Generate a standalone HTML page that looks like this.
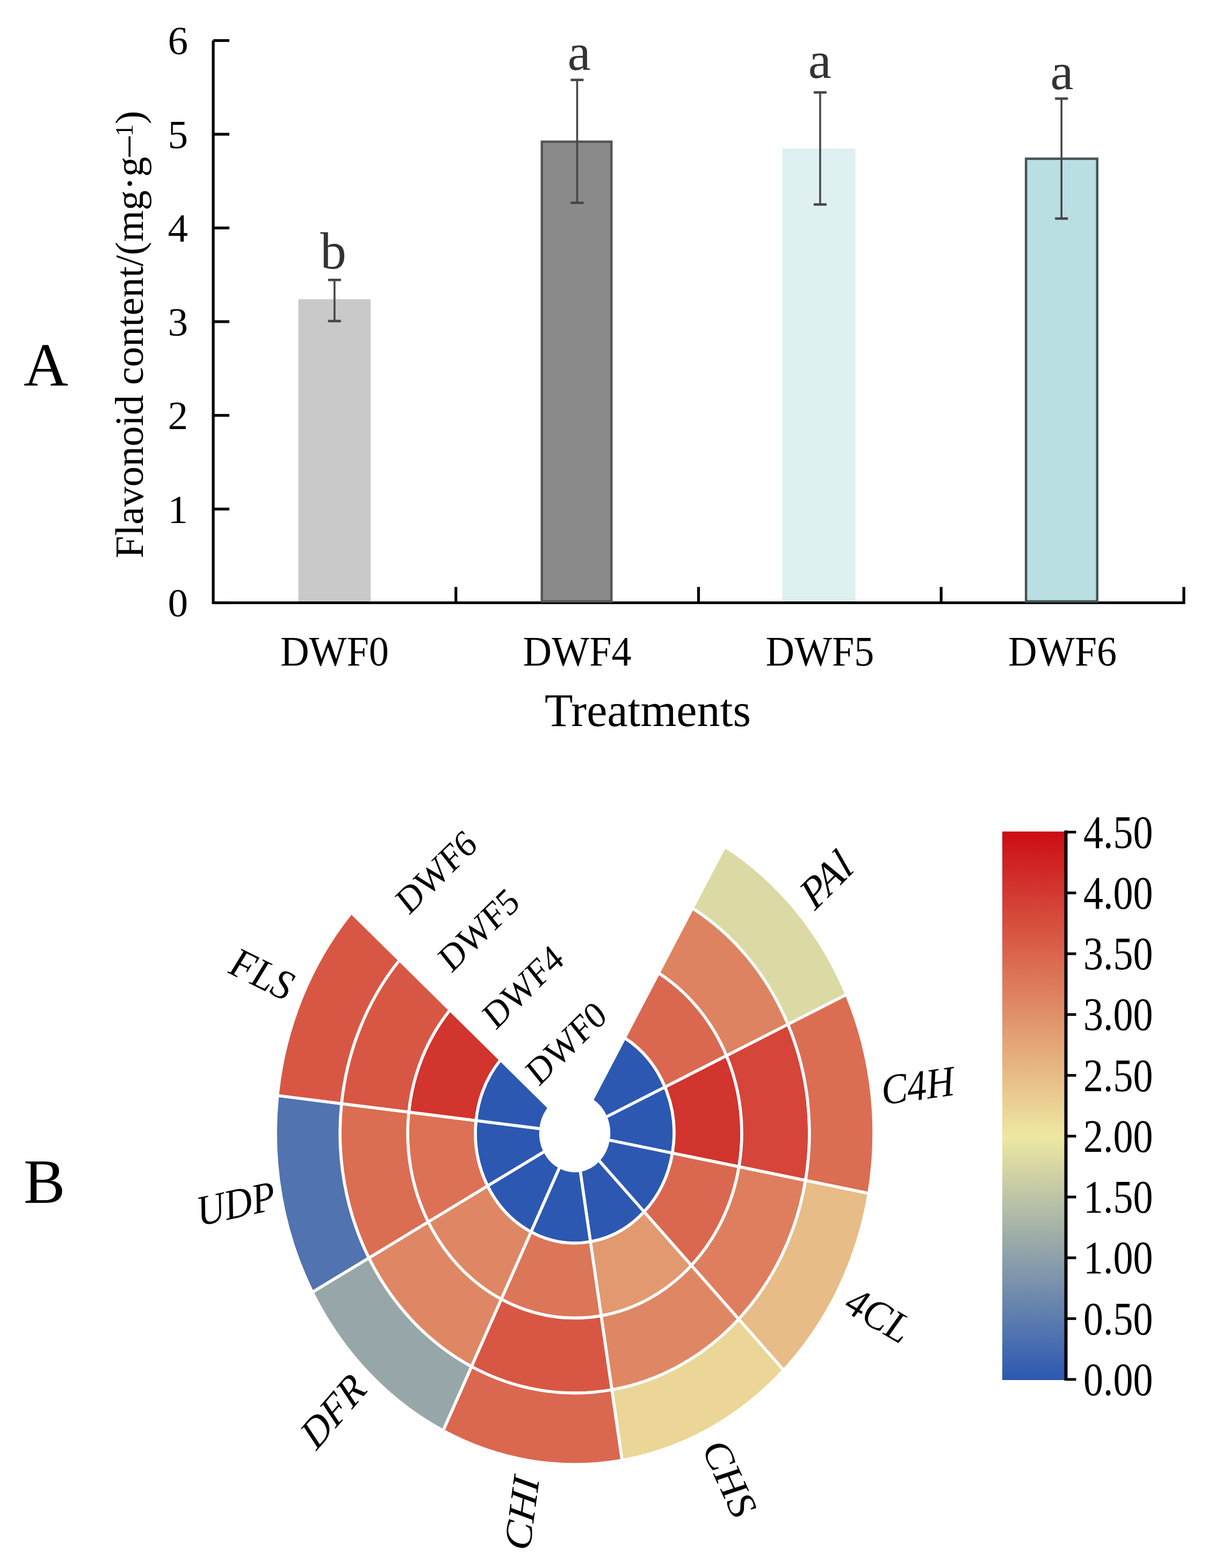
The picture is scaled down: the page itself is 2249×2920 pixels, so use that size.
<!DOCTYPE html>
<html><head><meta charset="utf-8"><title>Flavonoid content and gene expression</title>
<style>html,body{margin:0;padding:0;background:#fff;}svg{display:block;}</style></head>
<body>
<svg width="2249" height="2920" viewBox="0 0 2249 2920" font-family="'Liberation Serif', 'Times New Roman', serif">
<rect width="2249" height="2920" fill="#fff"/>
<g id="panelA">
<path d="M397.0 75.5 V1122.5 H2204.0 V1093" fill="none" stroke="#000" stroke-width="5.2" stroke-linejoin="miter"/>
<line x1="397.0" y1="1122.5" x2="427" y2="1122.5" stroke="#000" stroke-width="5.2"/>
<line x1="397.0" y1="948.0" x2="427" y2="948.0" stroke="#000" stroke-width="5.2"/>
<line x1="397.0" y1="773.5" x2="427" y2="773.5" stroke="#000" stroke-width="5.2"/>
<line x1="397.0" y1="599.0" x2="427" y2="599.0" stroke="#000" stroke-width="5.2"/>
<line x1="397.0" y1="424.5" x2="427" y2="424.5" stroke="#000" stroke-width="5.2"/>
<line x1="397.0" y1="250.0" x2="427" y2="250.0" stroke="#000" stroke-width="5.2"/>
<line x1="397.0" y1="75.5" x2="427" y2="75.5" stroke="#000" stroke-width="5.2"/>
<line x1="848.8" y1="1122.5" x2="848.8" y2="1093" stroke="#000" stroke-width="5.2"/>
<line x1="1300.5" y1="1122.5" x2="1300.5" y2="1093" stroke="#000" stroke-width="5.2"/>
<line x1="1752.2" y1="1122.5" x2="1752.2" y2="1093" stroke="#000" stroke-width="5.2"/>
<text x="350" y="1148.0" font-size="75" text-anchor="end" fill="#000">0</text>
<text x="350" y="973.5" font-size="75" text-anchor="end" fill="#000">1</text>
<text x="350" y="799.0" font-size="75" text-anchor="end" fill="#000">2</text>
<text x="350" y="624.5" font-size="75" text-anchor="end" fill="#000">3</text>
<text x="350" y="450.0" font-size="75" text-anchor="end" fill="#000">4</text>
<text x="350" y="275.5" font-size="75" text-anchor="end" fill="#000">5</text>
<text x="350" y="101.0" font-size="75" text-anchor="end" fill="#000">6</text>
<rect x="555.5" y="557.2" width="134.5" height="562.7" fill="#c9c9c9"/>
<rect x="1008.8" y="263.9" width="129.5" height="856.0" fill="#8a8a8a" stroke="#555555" stroke-width="4.5"/>
<rect x="1456.5" y="276.5" width="136.0" height="843.4" fill="#dff0f0"/>
<rect x="1910.2" y="295.6" width="132.5" height="824.3" fill="#b9dfe3" stroke="#475357" stroke-width="4.5"/>
<line x1="622.8" y1="521.3" x2="622.8" y2="597.9" stroke="#474747" stroke-width="3.6"/>
<line x1="610.8" y1="521.3" x2="634.8" y2="521.3" stroke="#474747" stroke-width="4.6"/>
<line x1="610.8" y1="597.9" x2="634.8" y2="597.9" stroke="#474747" stroke-width="4.6"/>
<line x1="1074.5" y1="148.8" x2="1074.5" y2="377.7" stroke="#474747" stroke-width="3.6"/>
<line x1="1062.5" y1="148.8" x2="1086.5" y2="148.8" stroke="#474747" stroke-width="4.6"/>
<line x1="1062.5" y1="377.7" x2="1086.5" y2="377.7" stroke="#474747" stroke-width="4.6"/>
<line x1="1526.9" y1="172.1" x2="1526.9" y2="380.8" stroke="#474747" stroke-width="3.6"/>
<line x1="1514.9" y1="172.1" x2="1538.9" y2="172.1" stroke="#474747" stroke-width="4.6"/>
<line x1="1514.9" y1="380.8" x2="1538.9" y2="380.8" stroke="#474747" stroke-width="4.6"/>
<line x1="1976.2" y1="183.6" x2="1976.2" y2="407.0" stroke="#474747" stroke-width="3.6"/>
<line x1="1964.2" y1="183.6" x2="1988.2" y2="183.6" stroke="#474747" stroke-width="4.6"/>
<line x1="1964.2" y1="407.0" x2="1988.2" y2="407.0" stroke="#474747" stroke-width="4.6"/>
<text x="620.5" y="500.2" font-size="97" text-anchor="middle" fill="#333">b</text>
<text x="1078.2" y="130.1" font-size="97" text-anchor="middle" fill="#333">a</text>
<text x="1526.2" y="144.9" font-size="97" text-anchor="middle" fill="#333">a</text>
<text x="1977.0" y="165.7" font-size="97" text-anchor="middle" fill="#333">a</text>
<text x="622.9" y="1239" font-size="79" text-anchor="middle" textLength="202" lengthAdjust="spacingAndGlyphs" fill="#000">DWF0</text>
<text x="1074.6" y="1239" font-size="79" text-anchor="middle" textLength="202" lengthAdjust="spacingAndGlyphs" fill="#000">DWF4</text>
<text x="1526.4" y="1239" font-size="79" text-anchor="middle" textLength="202" lengthAdjust="spacingAndGlyphs" fill="#000">DWF5</text>
<text x="1978.1" y="1239" font-size="79" text-anchor="middle" textLength="202" lengthAdjust="spacingAndGlyphs" fill="#000">DWF6</text>
<text x="1206" y="1352" font-size="86" text-anchor="middle" fill="#000">Treatments</text>
<text transform="translate(265.7 623) rotate(-90)" font-size="75" text-anchor="middle" fill="#000">Flavonoid content/(mg·g<tspan dy="-7.7">–</tspan><tspan font-size="46" dy="-11">1</tspan><tspan dy="18.7">)</tspan></text>
<text x="44" y="718" font-size="115" fill="#000">A</text>
</g>
<g transform="translate(1070.0 2110.0) scale(1 1.108)">
<path d="M92.78 -160.05 A185 185 0 0 1 168.07 -77.31 L57.69 -26.53 A63.5 63.5 0 0 0 31.85 -54.94 Z" fill="#2c58b2" stroke="#fff" stroke-width="5.5" vector-effect="non-scaling-stroke" stroke-linejoin="round"/>
<path d="M155.97 -269.06 A311 311 0 0 1 282.55 -129.96 L168.07 -77.31 A185 185 0 0 0 92.78 -160.05 Z" fill="#da6850" stroke="#fff" stroke-width="5.5" vector-effect="non-scaling-stroke" stroke-linejoin="round"/>
<path d="M219.16 -378.07 A437 437 0 0 1 397.02 -182.61 L282.55 -129.96 A311 311 0 0 0 155.97 -269.06 Z" fill="#de8361" stroke="#fff" stroke-width="5.5" vector-effect="non-scaling-stroke" stroke-linejoin="round"/>
<path d="M279.34 -481.89 A557 557 0 0 1 506.04 -232.75 L397.02 -182.61 A437 437 0 0 0 219.16 -378.07 Z" fill="#dbdaa4" stroke="#fff" stroke-width="5.5" vector-effect="non-scaling-stroke" stroke-linejoin="round"/>
<path d="M168.07 -77.31 A185 185 0 0 1 181.90 33.71 L62.44 11.57 A63.5 63.5 0 0 0 57.69 -26.53 Z" fill="#2c58b2" stroke="#fff" stroke-width="5.5" vector-effect="non-scaling-stroke" stroke-linejoin="round"/>
<path d="M282.55 -129.96 A311 311 0 0 1 305.79 56.68 L181.90 33.71 A185 185 0 0 0 168.07 -77.31 Z" fill="#d2342e" stroke="#fff" stroke-width="5.5" vector-effect="non-scaling-stroke" stroke-linejoin="round"/>
<path d="M397.02 -182.61 A437 437 0 0 1 429.68 79.64 L305.79 56.68 A311 311 0 0 0 282.55 -129.96 Z" fill="#d54539" stroke="#fff" stroke-width="5.5" vector-effect="non-scaling-stroke" stroke-linejoin="round"/>
<path d="M506.04 -232.75 A557 557 0 0 1 547.67 101.51 L429.68 79.64 A437 437 0 0 0 397.02 -182.61 Z" fill="#db6d52" stroke="#fff" stroke-width="5.5" vector-effect="non-scaling-stroke" stroke-linejoin="round"/>
<path d="M181.90 33.71 A185 185 0 0 1 129.21 132.40 L44.35 45.45 A63.5 63.5 0 0 0 62.44 11.57 Z" fill="#2c58b2" stroke="#fff" stroke-width="5.5" vector-effect="non-scaling-stroke" stroke-linejoin="round"/>
<path d="M305.79 56.68 A311 311 0 0 1 217.21 222.58 L129.21 132.40 A185 185 0 0 0 181.90 33.71 Z" fill="#da6850" stroke="#fff" stroke-width="5.5" vector-effect="non-scaling-stroke" stroke-linejoin="round"/>
<path d="M429.68 79.64 A437 437 0 0 1 305.21 312.76 L217.21 222.58 A311 311 0 0 0 305.79 56.68 Z" fill="#de7e5e" stroke="#fff" stroke-width="5.5" vector-effect="non-scaling-stroke" stroke-linejoin="round"/>
<path d="M547.67 101.51 A557 557 0 0 1 389.02 398.64 L305.21 312.76 A437 437 0 0 0 429.68 79.64 Z" fill="#e7bc86" stroke="#fff" stroke-width="5.5" vector-effect="non-scaling-stroke" stroke-linejoin="round"/>
<path d="M129.21 132.40 A185 185 0 0 1 29.26 182.67 L10.04 62.70 A63.5 63.5 0 0 0 44.35 45.45 Z" fill="#2c58b2" stroke="#fff" stroke-width="5.5" vector-effect="non-scaling-stroke" stroke-linejoin="round"/>
<path d="M217.21 222.58 A311 311 0 0 1 49.19 307.09 L29.26 182.67 A185 185 0 0 0 129.21 132.40 Z" fill="#e2996f" stroke="#fff" stroke-width="5.5" vector-effect="non-scaling-stroke" stroke-linejoin="round"/>
<path d="M305.21 312.76 A437 437 0 0 1 69.12 431.50 L49.19 307.09 A311 311 0 0 0 217.21 222.58 Z" fill="#df8764" stroke="#fff" stroke-width="5.5" vector-effect="non-scaling-stroke" stroke-linejoin="round"/>
<path d="M389.02 398.64 A557 557 0 0 1 88.09 549.99 L69.12 431.50 A437 437 0 0 0 305.21 312.76 Z" fill="#ebd697" stroke="#fff" stroke-width="5.5" vector-effect="non-scaling-stroke" stroke-linejoin="round"/>
<path d="M29.26 182.67 A185 185 0 0 1 -81.39 166.14 L-27.94 57.02 A63.5 63.5 0 0 0 10.04 62.70 Z" fill="#2c58b2" stroke="#fff" stroke-width="5.5" vector-effect="non-scaling-stroke" stroke-linejoin="round"/>
<path d="M49.19 307.09 A311 311 0 0 1 -136.82 279.29 L-81.39 166.14 A185 185 0 0 0 29.26 182.67 Z" fill="#dc7658" stroke="#fff" stroke-width="5.5" vector-effect="non-scaling-stroke" stroke-linejoin="round"/>
<path d="M69.12 431.50 A437 437 0 0 1 -192.25 392.44 L-136.82 279.29 A311 311 0 0 0 49.19 307.09 Z" fill="#d85744" stroke="#fff" stroke-width="5.5" vector-effect="non-scaling-stroke" stroke-linejoin="round"/>
<path d="M88.09 549.99 A557 557 0 0 1 -245.05 500.20 L-192.25 392.44 A437 437 0 0 0 69.12 431.50 Z" fill="#da6850" stroke="#fff" stroke-width="5.5" vector-effect="non-scaling-stroke" stroke-linejoin="round"/>
<path d="M-81.39 166.14 A185 185 0 0 1 -162.27 88.84 L-55.70 30.49 A63.5 63.5 0 0 0 -27.94 57.02 Z" fill="#2c58b2" stroke="#fff" stroke-width="5.5" vector-effect="non-scaling-stroke" stroke-linejoin="round"/>
<path d="M-136.82 279.29 A311 311 0 0 1 -272.79 149.35 L-162.27 88.84 A185 185 0 0 0 -81.39 166.14 Z" fill="#df8764" stroke="#fff" stroke-width="5.5" vector-effect="non-scaling-stroke" stroke-linejoin="round"/>
<path d="M-192.25 392.44 A437 437 0 0 1 -383.31 209.86 L-272.79 149.35 A311 311 0 0 0 -136.82 279.29 Z" fill="#df8764" stroke="#fff" stroke-width="5.5" vector-effect="non-scaling-stroke" stroke-linejoin="round"/>
<path d="M-245.05 500.20 A557 557 0 0 1 -488.57 267.48 L-383.31 209.86 A437 437 0 0 0 -192.25 392.44 Z" fill="#97a7a9" stroke="#fff" stroke-width="5.5" vector-effect="non-scaling-stroke" stroke-linejoin="round"/>
<path d="M-162.27 88.84 A185 185 0 0 1 -183.81 -20.94 L-63.09 -7.19 A63.5 63.5 0 0 0 -55.70 30.49 Z" fill="#2c58b2" stroke="#fff" stroke-width="5.5" vector-effect="non-scaling-stroke" stroke-linejoin="round"/>
<path d="M-272.79 149.35 A311 311 0 0 1 -309.00 -35.21 L-183.81 -20.94 A185 185 0 0 0 -162.27 88.84 Z" fill="#dc7155" stroke="#fff" stroke-width="5.5" vector-effect="non-scaling-stroke" stroke-linejoin="round"/>
<path d="M-383.31 209.86 A437 437 0 0 1 -434.19 -49.47 L-309.00 -35.21 A311 311 0 0 0 -272.79 149.35 Z" fill="#db6d52" stroke="#fff" stroke-width="5.5" vector-effect="non-scaling-stroke" stroke-linejoin="round"/>
<path d="M-488.57 267.48 A557 557 0 0 1 -553.42 -63.05 L-434.19 -49.47 A437 437 0 0 0 -383.31 209.86 Z" fill="#5173af" stroke="#fff" stroke-width="5.5" vector-effect="non-scaling-stroke" stroke-linejoin="round"/>
<path d="M-183.81 -20.94 A185 185 0 0 1 -138.13 -123.07 L-47.41 -42.24 A63.5 63.5 0 0 0 -63.09 -7.19 Z" fill="#2c58b2" stroke="#fff" stroke-width="5.5" vector-effect="non-scaling-stroke" stroke-linejoin="round"/>
<path d="M-309.00 -35.21 A311 311 0 0 1 -232.20 -206.89 L-138.13 -123.07 A185 185 0 0 0 -183.81 -20.94 Z" fill="#d2342e" stroke="#fff" stroke-width="5.5" vector-effect="non-scaling-stroke" stroke-linejoin="round"/>
<path d="M-434.19 -49.47 A437 437 0 0 1 -326.28 -290.71 L-232.20 -206.89 A311 311 0 0 0 -309.00 -35.21 Z" fill="#d85744" stroke="#fff" stroke-width="5.5" vector-effect="non-scaling-stroke" stroke-linejoin="round"/>
<path d="M-553.42 -63.05 A557 557 0 0 1 -415.88 -370.53 L-326.28 -290.71 A437 437 0 0 0 -434.19 -49.47 Z" fill="#d85744" stroke="#fff" stroke-width="5.5" vector-effect="non-scaling-stroke" stroke-linejoin="round"/>
<text transform="translate(430.4 -391.1) rotate(-42.3)" font-size="75" font-style="italic" text-anchor="start" dy="0.33em" fill="#000">PAl</text>
<text transform="translate(571.0 -70.9) rotate(-7.1)" font-size="72" font-style="italic" text-anchor="start" dy="0.33em" fill="#000">C4H</text>
<text transform="translate(510.0 276.9) rotate(28.1)" font-size="72" font-style="italic" text-anchor="start" dy="0.33em" fill="#000">4CL</text>
<text transform="translate(257.4 519.7) rotate(63.3)" font-size="72" font-style="italic" text-anchor="start" dy="0.33em" fill="#000">CHS</text>
<text transform="translate(-89.2 577.6) rotate(278.5)" font-size="72" font-style="italic" text-anchor="end" dy="0.33em" fill="#000">CHI</text>
<text transform="translate(-401.6 416.9) rotate(313.7)" font-size="72" font-style="italic" text-anchor="end" dy="0.33em" fill="#000">DFR</text>
<text transform="translate(-558.1 104.5) rotate(348.9)" font-size="72" font-style="italic" text-anchor="end" dy="0.33em" fill="#000">UDP</text>
<text transform="translate(-527.6 -242.6) rotate(384.1)" font-size="72" font-style="italic" text-anchor="end" dy="0.33em" fill="#000">FLS</text>
<text transform="translate(-15.7 -150.9) rotate(-41.5)" font-size="64" text-anchor="middle" dy="0.33em" fill="#000">DWF0</text>
<text transform="translate(-96.1 -245.4) rotate(-41.5)" font-size="64" text-anchor="middle" dy="0.33em" fill="#000">DWF4</text>
<text transform="translate(-178.6 -341.3) rotate(-41.5)" font-size="64" text-anchor="middle" dy="0.33em" fill="#000">DWF5</text>
<text transform="translate(-257.7 -438.5) rotate(-41.5)" font-size="64" text-anchor="middle" dy="0.33em" fill="#000">DWF6</text>
</g>
<defs><linearGradient id="cb" x1="0" y1="0" x2="0" y2="1">
<stop offset="0.0000" stop-color="#cc0c14"/>
<stop offset="0.0222" stop-color="#cd151a"/>
<stop offset="0.0444" stop-color="#cf1e1f"/>
<stop offset="0.0667" stop-color="#d02625"/>
<stop offset="0.0889" stop-color="#d12f2b"/>
<stop offset="0.1111" stop-color="#d33830"/>
<stop offset="0.1333" stop-color="#d44136"/>
<stop offset="0.1556" stop-color="#d64a3c"/>
<stop offset="0.1778" stop-color="#d75241"/>
<stop offset="0.2000" stop-color="#d85b47"/>
<stop offset="0.2222" stop-color="#da644d"/>
<stop offset="0.2444" stop-color="#db6d52"/>
<stop offset="0.2667" stop-color="#dc7658"/>
<stop offset="0.2889" stop-color="#de7e5e"/>
<stop offset="0.3111" stop-color="#df8764"/>
<stop offset="0.3333" stop-color="#e09069"/>
<stop offset="0.3556" stop-color="#e2996f"/>
<stop offset="0.3778" stop-color="#e3a275"/>
<stop offset="0.4000" stop-color="#e4aa7a"/>
<stop offset="0.4222" stop-color="#e6b380"/>
<stop offset="0.4444" stop-color="#e7bc86"/>
<stop offset="0.4667" stop-color="#e9c58b"/>
<stop offset="0.4889" stop-color="#eace91"/>
<stop offset="0.5111" stop-color="#ebd697"/>
<stop offset="0.5333" stop-color="#eddf9c"/>
<stop offset="0.5556" stop-color="#eee8a2"/>
<stop offset="0.5778" stop-color="#e4e1a3"/>
<stop offset="0.6000" stop-color="#dbdaa4"/>
<stop offset="0.6222" stop-color="#d1d2a4"/>
<stop offset="0.6444" stop-color="#c7cba5"/>
<stop offset="0.6667" stop-color="#bec4a6"/>
<stop offset="0.6889" stop-color="#b4bda7"/>
<stop offset="0.7111" stop-color="#aab6a8"/>
<stop offset="0.7333" stop-color="#a0aea8"/>
<stop offset="0.7556" stop-color="#97a7a9"/>
<stop offset="0.7778" stop-color="#8da0aa"/>
<stop offset="0.8000" stop-color="#8399ab"/>
<stop offset="0.8222" stop-color="#7a92ac"/>
<stop offset="0.8444" stop-color="#708aac"/>
<stop offset="0.8667" stop-color="#6683ad"/>
<stop offset="0.8889" stop-color="#5c7cae"/>
<stop offset="0.9111" stop-color="#5375af"/>
<stop offset="0.9333" stop-color="#496eb0"/>
<stop offset="0.9556" stop-color="#3f66b0"/>
<stop offset="0.9778" stop-color="#365fb1"/>
<stop offset="1.0000" stop-color="#2c58b2"/>
</linearGradient></defs>
<rect x="1866.0" y="1548.5" width="118.5" height="1021.5" fill="url(#cb)"/>
<line x1="1984.5" y1="1546.5" x2="1984.5" y2="2571.0" stroke="#000" stroke-width="6"/>
<line x1="1984.5" y1="2568.8" x2="2003.5" y2="2568.8" stroke="#000" stroke-width="5"/>
<text transform="translate(2017 2568.8) scale(1 1.185)" font-size="74" dy="0.33em" fill="#000">0.00</text>
<line x1="1984.5" y1="2455.6" x2="2003.5" y2="2455.6" stroke="#000" stroke-width="5"/>
<text transform="translate(2017 2455.6) scale(1 1.185)" font-size="74" dy="0.33em" fill="#000">0.50</text>
<line x1="1984.5" y1="2342.3" x2="2003.5" y2="2342.3" stroke="#000" stroke-width="5"/>
<text transform="translate(2017 2342.3) scale(1 1.185)" font-size="74" dy="0.33em" fill="#000">1.00</text>
<line x1="1984.5" y1="2229.1" x2="2003.5" y2="2229.1" stroke="#000" stroke-width="5"/>
<text transform="translate(2017 2229.1) scale(1 1.185)" font-size="74" dy="0.33em" fill="#000">1.50</text>
<line x1="1984.5" y1="2115.8" x2="2003.5" y2="2115.8" stroke="#000" stroke-width="5"/>
<text transform="translate(2017 2115.8) scale(1 1.185)" font-size="74" dy="0.33em" fill="#000">2.00</text>
<line x1="1984.5" y1="2002.6" x2="2003.5" y2="2002.6" stroke="#000" stroke-width="5"/>
<text transform="translate(2017 2002.6) scale(1 1.185)" font-size="74" dy="0.33em" fill="#000">2.50</text>
<line x1="1984.5" y1="1889.3" x2="2003.5" y2="1889.3" stroke="#000" stroke-width="5"/>
<text transform="translate(2017 1889.3) scale(1 1.185)" font-size="74" dy="0.33em" fill="#000">3.00</text>
<line x1="1984.5" y1="1776.1" x2="2003.5" y2="1776.1" stroke="#000" stroke-width="5"/>
<text transform="translate(2017 1776.1) scale(1 1.185)" font-size="74" dy="0.33em" fill="#000">3.50</text>
<line x1="1984.5" y1="1662.8" x2="2003.5" y2="1662.8" stroke="#000" stroke-width="5"/>
<text transform="translate(2017 1662.8) scale(1 1.185)" font-size="74" dy="0.33em" fill="#000">4.00</text>
<line x1="1984.5" y1="1549.6" x2="2003.5" y2="1549.6" stroke="#000" stroke-width="5"/>
<text transform="translate(2017 1549.6) scale(1 1.185)" font-size="74" dy="0.33em" fill="#000">4.50</text>
<text x="44" y="2240" font-size="116" fill="#000">B</text>
</svg>
</body></html>
